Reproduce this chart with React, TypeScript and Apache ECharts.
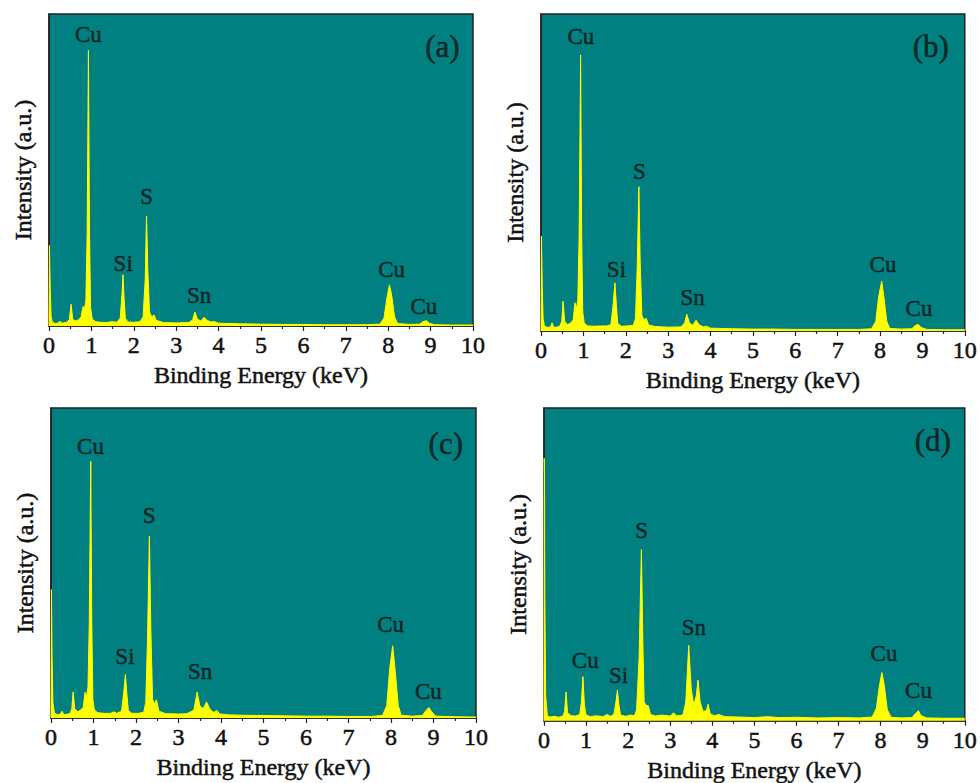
import React, { useEffect, useRef } from "react";
import * as echarts from "echarts";

const xTicks = [0, 1, 2, 3, 4, 5, 6, 7, 8, 9, 10];
const xTitle = "Binding Energy (keV)";
const yTitle = "Intensity (a.u.)";
const panelTags = ["(a)", "(b)", "(c)", "(d)"];

const spectrumA: number[][] = [
  [0, 0], [0.01, 25.8], [0.03, 12], [0.05, 3], [0.08, 1.2], [0.15, 0.8], [0.22, 0.9], [0.25, 1.6], [0.29, 1.0],
  [0.35, 1.0], [0.42, 1.3], [0.48, 2.0], [0.52, 7.0], [0.56, 2.2], [0.62, 1.6], [0.7, 2.0], [0.76, 3.0],
  [0.8, 6.2], [0.84, 5.8], [0.87, 8], [0.9, 30], [0.93, 88.3], [0.955, 30], [0.98, 6], [1.02, 2.2], [1.1, 1.4],
  [1.2, 1.2], [1.35, 1.1], [1.5, 1.4], [1.6, 1.2], [1.68, 2.5], [1.72, 10], [1.745, 16.4], [1.77, 9], [1.8, 2.5],
  [1.86, 1.3], [2.0, 1.2], [2.15, 1.4], [2.22, 3], [2.27, 15], [2.3, 35.3], [2.33, 18], [2.37, 4.5], [2.42, 3.0],
  [2.48, 3.5], [2.53, 1.8], [2.7, 1.1], [3.0, 1.0], [3.3, 1.1], [3.39, 2.0], [3.44, 4.5], [3.5, 2.2], [3.58, 1.6],
  [3.66, 2.8], [3.73, 1.8], [3.82, 1.3], [3.9, 1.4], [4.0, 0.9], [4.5, 0.7], [5, 0.6], [5.5, 0.5], [6, 0.5],
  [6.5, 0.4], [7, 0.4], [7.5, 0.4], [7.8, 0.6], [7.9, 2.5], [7.97, 9], [8.03, 13.2], [8.08, 10], [8.15, 3],
  [8.22, 0.8], [8.5, 0.5], [8.75, 0.6], [8.82, 1.4], [8.9, 1.7], [8.97, 0.9], [9.1, 0.4], [9.5, 0.3], [10, 0.3],
];

const spectrumB: number[][] = [
  [0, 0], [0.01, 29.9], [0.03, 14], [0.05, 4], [0.08, 1.5], [0.15, 1.2], [0.22, 1.2], [0.26, 2.6], [0.3, 1.2],
  [0.37, 1.2], [0.44, 1.5], [0.49, 3], [0.52, 9.4], [0.56, 3], [0.63, 2], [0.7, 2.5], [0.76, 3.5], [0.8, 8.9],
  [0.84, 7], [0.87, 10], [0.9, 30], [0.935, 87.1], [0.96, 30], [0.985, 6], [1.02, 2.5], [1.1, 1.6], [1.25, 1.5],
  [1.4, 1.6], [1.55, 1.6], [1.65, 2], [1.7, 8], [1.745, 15.2], [1.78, 8], [1.81, 2.4], [1.9, 1.5], [2.05, 1.6],
  [2.18, 1.8], [2.23, 4], [2.27, 20], [2.31, 45.5], [2.34, 22], [2.38, 5], [2.43, 3.4], [2.48, 4.1], [2.54, 1.9],
  [2.7, 1.4], [3.0, 1.2], [3.3, 1.3], [3.39, 2.5], [3.44, 5.3], [3.5, 2.6], [3.58, 1.8], [3.66, 3.4], [3.73, 2],
  [3.83, 1.3], [3.9, 1.5], [4.0, 0.9], [4.5, 0.7], [5, 0.6], [5.5, 0.6], [6, 0.5], [6.5, 0.5], [7, 0.5], [7.5, 0.5],
  [7.8, 0.7], [7.9, 3], [7.97, 11], [8.04, 15.7], [8.09, 11], [8.16, 3], [8.23, 0.8], [8.5, 0.6], [8.75, 0.7],
  [8.82, 1.6], [8.9, 2.1], [8.97, 1.1], [9.1, 0.5], [9.5, 0.4], [10, 0.4],
];

const spectrumC: number[][] = [
  [0, 0], [0.01, 41.4], [0.025, 20], [0.045, 5], [0.08, 1.5], [0.15, 1.1], [0.22, 1.2], [0.26, 2.2], [0.3, 1.1],
  [0.38, 1.2], [0.45, 1.5], [0.49, 3], [0.52, 8.4], [0.56, 3], [0.63, 2], [0.7, 2.6], [0.76, 3.5], [0.8, 8.3],
  [0.84, 7], [0.87, 10], [0.9, 30], [0.935, 82.8], [0.96, 30], [0.985, 6], [1.02, 2.6], [1.1, 1.7], [1.25, 1.5],
  [1.4, 1.5], [1.48, 2], [1.55, 1.5], [1.66, 2.2], [1.71, 8], [1.75, 14], [1.79, 7], [1.82, 2.4], [1.9, 1.5],
  [2.05, 1.5], [2.18, 1.8], [2.23, 5], [2.27, 25], [2.315, 58.6], [2.35, 28], [2.39, 6], [2.44, 4.5], [2.48, 5.9],
  [2.54, 2.2], [2.7, 1.4], [3.0, 1.3], [3.2, 1.4], [3.36, 2.5], [3.44, 8.4], [3.5, 4], [3.58, 3], [3.66, 5.2],
  [3.74, 2.8], [3.83, 1.8], [3.9, 2.5], [3.97, 1.3], [4.2, 1.0], [4.5, 0.9], [5, 0.8], [5.5, 0.7], [6, 0.6],
  [6.5, 0.6], [7, 0.5], [7.5, 0.5], [7.8, 0.8], [7.9, 4], [7.97, 16], [8.04, 23.3], [8.1, 15], [8.17, 4],
  [8.24, 0.9], [8.5, 0.6], [8.74, 0.8], [8.81, 2.2], [8.89, 3.4], [8.96, 2], [9.05, 0.6], [9.5, 0.4], [10, 0.3],
];

const spectrumD: number[][] = [
  [0, 0], [0.005, 83.9], [0.012, 78], [0.02, 40], [0.04, 8], [0.08, 1.5], [0.15, 1.2], [0.25, 1.4], [0.35, 1.1],
  [0.45, 1.5], [0.49, 3], [0.525, 9.2], [0.56, 2.5], [0.65, 1.6], [0.75, 1.5], [0.85, 2], [0.89, 6], [0.925, 14.1],
  [0.96, 5], [1.0, 1.8], [1.1, 1.3], [1.25, 1.6], [1.4, 1.3], [1.5, 2], [1.58, 1.4], [1.66, 2], [1.71, 6],
  [1.745, 9.8], [1.78, 5], [1.82, 1.8], [1.95, 1.4], [2.05, 1.8], [2.15, 1.6], [2.2, 3.5], [2.26, 20],
  [2.315, 54.7], [2.35, 25], [2.38, 6], [2.42, 5], [2.48, 4.8], [2.53, 2], [2.65, 1.5], [2.8, 1.8], [3.0, 1.5],
  [3.08, 2.5], [3.15, 1.6], [3.3, 1.8], [3.37, 6], [3.44, 24.1], [3.5, 10], [3.56, 5], [3.62, 8], [3.66, 13],
  [3.71, 6], [3.78, 3], [3.86, 3.2], [3.9, 5.3], [3.95, 2.2], [4.05, 1.6], [4.15, 2], [4.3, 1.3], [4.6, 1.2],
  [5, 1.0], [5.3, 1.3], [5.6, 1.0], [6, 1.1], [6.5, 0.9], [7, 1.0], [7.5, 0.9], [7.8, 1.2], [7.9, 4], [7.97, 11],
  [8.03, 15.4], [8.08, 12], [8.16, 3.5], [8.25, 1.1], [8.5, 0.9], [8.75, 1.0], [8.82, 2.2], [8.9, 3.2], [8.96, 1.6],
  [9.1, 0.9], [9.5, 0.8], [10, 0.8],
];

// peak annotations: [name, energy, intensity]
const peakLabelsA: [string, number, number][] = [
  ["Cu", 0.93, 93.4], ["Si", 1.75, 20.1], ["S", 2.3, 41.5], ["Sn", 3.54, 9.9], ["Cu", 8.08, 18.0], ["Cu", 8.84, 6.4],
];
const peakLabelsB: [string, number, number][] = [
  ["Cu", 0.94, 92.9], ["Si", 1.78, 19.4], ["S", 2.32, 50.3], ["Sn", 3.58, 10.7], ["Cu", 8.07, 21.1], ["Cu", 8.92, 7.1],
];
const peakLabelsC: [string, number, number][] = [
  ["Cu", 0.93, 87.6], ["Si", 1.74, 19.9], ["S", 2.31, 65.3], ["Sn", 3.51, 15.1], ["Cu", 7.99, 30.1], ["Cu", 8.88, 8.4],
];
const peakLabelsD: [string, number, number][] = [
  ["Cu", 0.98, 19.4], ["Si", 1.77, 14.6], ["S", 2.32, 60.7], ["Sn", 3.56, 29.7], ["Cu", 8.08, 21.4], ["Cu", 8.9, 9.8],
];
const tagPositions: number[][] = [[9.28, 89.6], [9.2, 89.8], [9.29, 88.7], [9.24, 89.7]];

const spectra = [spectrumA, spectrumB, spectrumC, spectrumD];
const peakLabels = [peakLabelsA, peakLabelsB, peakLabelsC, peakLabelsD];

const grids = [
  { left: 49, top: 14, width: 424, height: 312 },
  { left: 541, top: 14, width: 424, height: 317 },
  { left: 51, top: 408, width: 425, height: 310 },
  { left: 544, top: 408, width: 425, height: 314 },
];

const FONT = "Liberation Serif";
const TEAL = "#008080";
const YELLOW = "#FFFF00";
const INK = "#111111";
const heavy = { textBorderColor: INK, textBorderWidth: 0.5 };

export default function App() {
  const ref = useRef<HTMLDivElement>(null);
  useEffect(() => {
    if (!ref.current) return;
    const chart = echarts.init(ref.current, undefined, { renderer: "svg" });
    const option: any = {
      animation: false,
      backgroundColor: "#ffffff",
      textStyle: { fontFamily: FONT },
      grid: grids.map((g) => ({
        ...g,
        show: true,
        backgroundColor: TEAL,
        borderColor: "#222222",
        borderWidth: 1.5,
        containLabel: false,
      })),
      xAxis: grids.map((_, i) => ({
        type: "value",
        gridIndex: i,
        min: xTicks[0],
        max: xTicks[xTicks.length - 1],
        interval: 1,
        name: xTitle,
        nameLocation: "middle",
        nameGap: 37,
        nameTextStyle: { fontFamily: FONT, fontSize: 24, color: INK, ...heavy },
        axisLine: { show: true, onZero: false, lineStyle: { color: "#222222", width: 1.5 } },
        axisTick: { show: true, length: 5, lineStyle: { color: "#222222", width: 1.2 } },
        minorTick: { show: true, splitNumber: 2, length: 3, lineStyle: { color: "#222222", width: 1.2 } },
        axisLabel: { fontFamily: FONT, fontSize: 24, color: INK, margin: 7, ...heavy },
        splitLine: { show: false },
      })),
      yAxis: grids.map((_, i) => ({
        type: "value",
        gridIndex: i,
        min: 0,
        max: 100,
        name: yTitle,
        nameLocation: "middle",
        nameGap: 14,
        nameRotate: 90,
        nameTextStyle: { fontFamily: FONT, fontSize: 24, color: INK, ...heavy },
        axisLine: { show: true, lineStyle: { color: "#222222", width: 1.5 } },
        axisTick: { show: false },
        axisLabel: { show: false },
        splitLine: { show: false },
      })),
      series: [
        ...spectra.map((data, i) => ({
          type: "line",
          xAxisIndex: i,
          yAxisIndex: i,
          data,
          showSymbol: false,
          symbol: "none",
          lineStyle: { color: YELLOW, width: 1 },
          areaStyle: { color: YELLOW, opacity: 1 },
          z: 2,
        })),
        ...peakLabels.map((labels, i) => ({
          type: "scatter",
          xAxisIndex: i,
          yAxisIndex: i,
          symbolSize: 1,
          itemStyle: { color: "rgba(0,0,0,0)" },
          z: 3,
          data: [
            ...labels.map(([name, x, y]) => ({
              name,
              value: [x, y],
              label: {
                show: true,
                position: "inside",
                formatter: name,
                fontFamily: FONT,
                fontSize: 23,
                color: INK,
                ...heavy,
              },
            })),
            {
              name: panelTags[i],
              value: tagPositions[i],
              label: {
                show: true,
                position: "inside",
                formatter: panelTags[i],
                fontFamily: FONT,
                fontSize: 31,
                color: INK,
                ...heavy,
              },
            },
          ],
        })),
      ],
    };
    chart.setOption(option);
    return () => chart.dispose();
  }, []);
  return (
    <div
      ref={ref}
      style={{ position: "absolute", left: 0, top: 0, width: 980, height: 783, background: "#fff" }}
    />
  );
}
